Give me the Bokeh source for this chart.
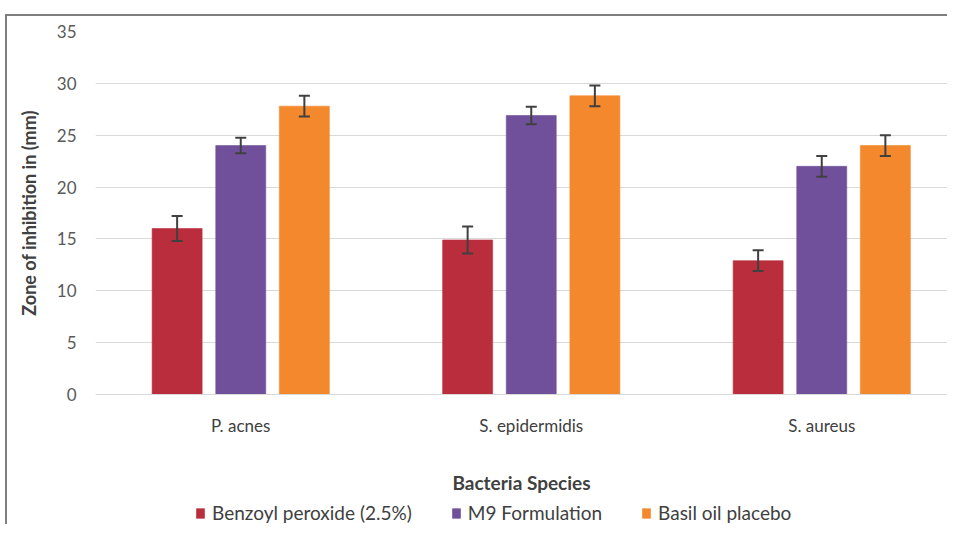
from bokeh.plotting import figure
from bokeh.layouts import column
from bokeh.models import (ColumnDataSource, Range1d, FixedTicker, Legend, LegendItem,
                          Whisker, TeeHead, InlineStyleSheet)
from bokeh.transform import dodge
from bokeh.embed import file_html
from bokeh.resources import INLINE

categories = ["P. acnes", "S. epidermidis", "S. aureus"]
series_names = ["Benzoyl peroxide (2.5%)", "M9 Formulation", "Basil oil placebo"]
benzoyl = [16.0, 14.9, 12.9]
benzoyl_err = [1.2, 1.3, 1.0]
m9 = [24.0, 26.9, 22.0]
m9_err = [0.75, 0.85, 1.0]
basil = [27.8, 28.8, 24.0]
basil_err = [1.0, 1.0, 1.0]
y_ticks = [0, 5, 10, 15, 20, 25, 30, 35]

colors = ["#B92D3C", "#70509A", "#F3882C"]
offsets = [-0.219, 0.0, 0.219]
bar_w = 0.172
FONT = "Lato"

W, H1, H2 = 947, 496, 28
css = InlineStyleSheet(css=""":host {
  background-color: white;
  background-image: linear-gradient(#7f7f7f, #7f7f7f), linear-gradient(#7f7f7f, #7f7f7f);
  background-size: 2px 100%, 100% 2px;
  background-position: 5px 14px, 5px 14px;
  background-repeat: no-repeat;
}""")
p = figure(width=W, height=H1, output_backend="svg", toolbar_location=None,
           x_range=Range1d(0, (W - 95) / 290.5), y_range=Range1d(0, 35),
           min_border_left=95, min_border_right=0, min_border_top=31,
           min_border_bottom=H1 - 395)
p.outline_line_color = None
p.background_fill_color = "white"
p.border_fill_color = None

xpos = [i + 0.5 for i in range(len(categories))]
sources = []
for name, vals, errs, col, off in zip(series_names, [benzoyl, m9, basil],
                                      [benzoyl_err, m9_err, basil_err], colors, offsets):
    src = ColumnDataSource(dict(x=xpos, top=vals,
                                upper=[v + e for v, e in zip(vals, errs)],
                                lower=[v - e for v, e in zip(vals, errs)]))
    sources.append(src)
    p.vbar(x=dodge("x", off), top="top", width=bar_w, source=src,
           fill_color=col, line_color=col, line_alpha=0.6)
    w = Whisker(base=dodge("x", off), upper="upper", lower="lower", source=src,
                line_color="#404040", line_width=2, level="overlay",
                upper_head=TeeHead(size=11, line_color="#404040", line_width=2),
                lower_head=TeeHead(size=11, line_color="#404040", line_width=2))
    p.add_layout(w)

# axes
p.xaxis.ticker = FixedTicker(ticks=xpos)
p.xaxis.major_label_overrides = {x: c for x, c in zip(xpos, categories)}
p.xaxis.major_tick_line_color = None
p.xaxis.major_tick_out = 0
p.xaxis.major_tick_in = 0
p.xaxis.minor_tick_line_color = None
p.xaxis.axis_line_color = "#D9D9D9"
p.xaxis.axis_line_width = 1
p.xaxis.major_label_text_font = FONT
p.xaxis.major_label_text_font_size = "17px"
p.xaxis.major_label_text_color = "#404040"
p.xaxis.major_label_standoff = 20
p.xaxis.axis_label = "Bacteria Species"
p.xaxis.axis_label_text_font = FONT
p.xaxis.axis_label_text_font_style = "bold"
p.xaxis.axis_label_text_font_size = "19px"
p.xaxis.axis_label_text_color = "#404040"
p.xaxis.axis_label_standoff = 32

p.yaxis.ticker = FixedTicker(ticks=y_ticks)
p.yaxis.major_tick_line_color = None
p.yaxis.major_tick_out = 0
p.yaxis.major_tick_in = 0
p.yaxis.minor_tick_line_color = None
p.yaxis.axis_line_color = None
p.yaxis.major_label_text_font = FONT
p.yaxis.major_label_text_font_size = "17px"
p.yaxis.major_label_text_color = "#595959"
p.yaxis.major_label_standoff = 19
p.yaxis.axis_label = "Zone of inhibition in (mm)"
p.yaxis.axis_label_text_font = FONT
p.yaxis.axis_label_text_font_style = "bold"
p.yaxis.axis_label_text_font_size = "18px"
p.yaxis.axis_label_text_color = "#404040"
p.yaxis.axis_label_standoff = 14

p.xgrid.grid_line_color = None
p.ygrid.grid_line_color = "#D9D9D9"
p.ygrid.grid_line_width = 1

# legend strip (series drawn out of view, only their legend entries show)
p2 = figure(width=W, height=H2, output_backend="svg", toolbar_location=None,
            x_axis_type=None, y_axis_type=None,
            x_range=Range1d(0, 3), y_range=Range1d(100, 101),
            min_border_left=0, min_border_right=0, min_border_top=0, min_border_bottom=0)
p2.outline_line_color = None
p2.background_fill_color = None
p2.border_fill_color = None
p2.xgrid.grid_line_color = None
p2.ygrid.grid_line_color = None
items = []
for name, col, src in zip(series_names, colors, sources):
    r = p2.vbar(x="x", top="top", width=bar_w, source=src,
                fill_color=col, line_color=col, line_alpha=0.6)
    items.append(LegendItem(label=name, renderers=[r]))
legend = Legend(items=items, orientation="horizontal", location=(100, 0),
                border_line_color=None, background_fill_alpha=0,
                padding=0, margin=0, spacing=39, label_standoff=7,
                glyph_width=10, glyph_height=12,
                label_text_font=FONT, label_text_font_size="19px",
                label_text_color="#404040")
p2.add_layout(legend, "center")

layout = column(p, p2, spacing=0, stylesheets=[css])
open("out.html", "w").write(file_html(layout, INLINE))
